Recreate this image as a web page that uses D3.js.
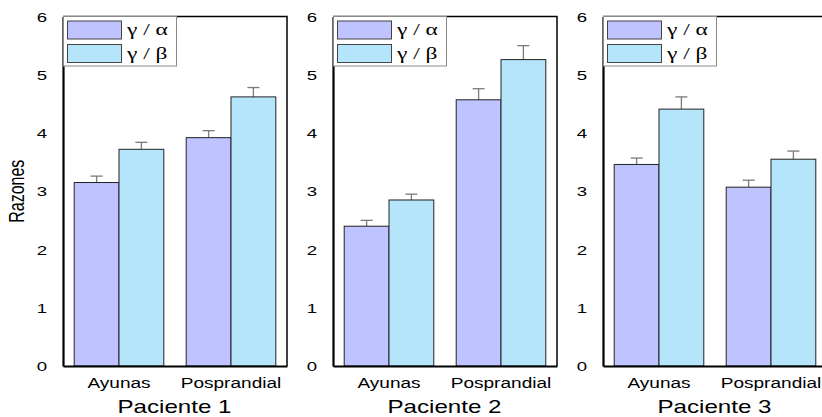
<!DOCTYPE html>
<html>
<head>
<meta charset="utf-8">
<script src="https://cdn.jsdelivr.net/npm/d3@7"></script>
<style>
  html, body { margin: 0; padding: 0; background: #fff; }
  svg { display: block; }
  text { font-family: Arial, "Liberation Sans", sans-serif; fill: #000; }
</style>
</head>
<body>
<svg id="chart" width="822" height="417"></svg>
<script>
// Ratio data per patient: [Ayunas, Posprandial]
const patients = ["Paciente 1", "Paciente 2", "Paciente 3"];
const categories = ["Ayunas", "Posprandial"];
const seriesNames = ["γ / α", "γ / β"];
const gammaAlpha = [[3.15, 3.92], [2.40, 4.57], [3.46, 3.07]];
const gammaBeta  = [[3.72, 4.62], [2.85, 5.26], [4.41, 3.55]];
const errAlpha   = [[0.11, 0.12], [0.10, 0.19], [0.11, 0.12]];
const errBeta    = [[0.12, 0.16], [0.10, 0.24], [0.21, 0.14]];
const yTicks = [0, 1, 2, 3, 4, 5, 6];

const colors = ["#bfc3ff", "#b4e5fb"];
const SX = 1.38; // horizontal text stretch

const svg = d3.select("#chart");
const panelW = 224, plotTop = 16.5, plotBottom = 366, firstLeft = 63, panelStep = 270;

const y = d3.scaleLinear().domain([0, 6]).range([plotBottom, plotTop]);

// text helper: stretched horizontally around its anchor point
function stretchedText(g, x, yPos, str, size, anchor, family) {
  const t = g.append("g").attr("transform", `translate(${x},${yPos}) scale(${SX},1)`)
    .append("text")
    .attr("text-anchor", anchor)
    .attr("font-size", size)
    .text(str);
  if (family) t.style("font-family", family);
  return t;
}

patients.forEach((p, pi) => {
  const left = firstLeft + pi * panelStep;
  const g = svg.append("g");

  const x0 = d3.scaleBand().domain(categories).range([left, left + panelW])
    .paddingInner(0.2).paddingOuter(0.1);
  const x1 = d3.scaleBand().domain(seriesNames).range([0, x0.bandwidth()]).padding(0);

  const rows = [];
  categories.forEach((c, ci) => {
    rows.push({ c, s: seriesNames[0], v: gammaAlpha[pi][ci], e: errAlpha[pi][ci], k: 0 });
    rows.push({ c, s: seriesNames[1], v: gammaBeta[pi][ci], e: errBeta[pi][ci], k: 1 });
  });

  // error bars (upper only)
  g.selectAll("line.err").data(rows).join("line")
    .attr("x1", d => x0(d.c) + x1(d.s) + x1.bandwidth() / 2)
    .attr("x2", d => x0(d.c) + x1(d.s) + x1.bandwidth() / 2)
    .attr("y1", d => y(d.v)).attr("y2", d => y(d.v + d.e))
    .attr("stroke", "#7a7a7a").attr("stroke-width", 1.3);
  g.selectAll("line.cap").data(rows).join("line")
    .attr("x1", d => x0(d.c) + x1(d.s) + x1.bandwidth() / 2 - 6)
    .attr("x2", d => x0(d.c) + x1(d.s) + x1.bandwidth() / 2 + 6)
    .attr("y1", d => y(d.v + d.e)).attr("y2", d => y(d.v + d.e))
    .attr("stroke", "#7a7a7a").attr("stroke-width", 1.3);

  // bars
  g.selectAll("rect.bar").data(rows).join("rect")
    .attr("x", d => x0(d.c) + x1(d.s))
    .attr("y", d => y(d.v))
    .attr("width", x1.bandwidth())
    .attr("height", d => y(0) - y(d.v))
    .attr("fill", d => colors[d.k])
    .attr("stroke", "#222").attr("stroke-width", 1);

  // frame: top and right
  g.append("path")
    .attr("d", `M${left},${plotTop}H${left + panelW}V${plotBottom}`)
    .attr("fill", "none").attr("stroke", "#000").attr("stroke-width", 1.5);

  // y axis
  const yAxis = g.append("g").attr("transform", `translate(${left},0)`)
    .call(d3.axisLeft(y).tickValues(yTicks).tickSize(0).tickPadding(0).tickFormat(d3.format("d")));
  yAxis.select(".domain").attr("stroke", "#000").attr("stroke-width", 2.2);
  yAxis.selectAll(".tick text").remove();
  yTicks.forEach(v => {
    stretchedText(g, left - 21, y(v) + 5, String(v), 13.5, "middle");
  });

  // x axis
  const xAxis = g.append("g").attr("transform", `translate(0,${plotBottom})`)
    .call(d3.axisBottom(x0).tickSize(0).tickFormat(""));
  xAxis.select(".domain").attr("stroke", "#000").attr("stroke-width", 2.2);
  categories.forEach(c => {
    stretchedText(g, x0(c) + x0.bandwidth() / 2, 388, c, 13.8, "middle");
  });

  stretchedText(g, left + panelW / 2 - 0.5, 413, p, 17.5, "middle");

  // legend
  const lg = g.append("g");
  lg.append("rect").attr("x", left + 0.5).attr("y", plotTop).attr("width", 113).attr("height", 49.5)
    .attr("fill", "#fff").attr("stroke", "#8a8a8a").attr("stroke-width", 1);
  seriesNames.forEach((s, si) => {
    lg.append("rect").attr("x", left + 4.5).attr("y", plotTop + 4.5 + si * 23.5)
      .attr("width", 54).attr("height", 18)
      .attr("fill", colors[si]).attr("stroke", "#444").attr("stroke-width", 1);
    stretchedText(lg, left + 64, plotTop + 18.5 + si * 23.5, s, 17, "start", "'Liberation Serif', 'Times New Roman', serif");
  });
});

// shared y-axis title
svg.append("g").attr("transform", `translate(24,${(plotTop + plotBottom) / 2}) scale(${SX},1)`)
  .append("text").attr("transform", "rotate(-90)")
  .attr("text-anchor", "middle").attr("font-size", 16).text("Razones");
</script>
</body>
</html>
